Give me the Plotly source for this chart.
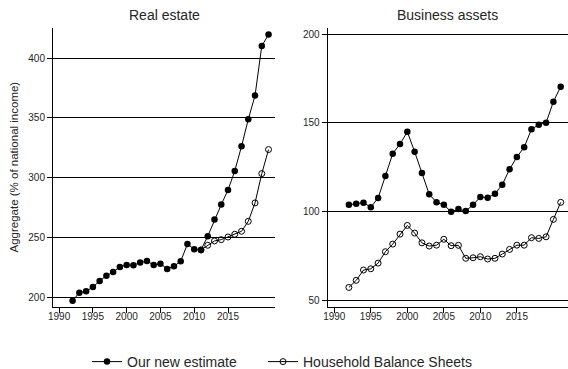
import plotly.graph_objects as go
from plotly.subplots import make_subplots

years = list(range(1992, 2022))

# Real estate, aggregate (% of national income)
real_estate_new = [197.2, 203.9, 205.0, 208.6, 213.6, 218.1, 221.2, 225.4, 227.0, 226.8,
                   229.0, 230.4, 227.0, 228.1, 223.7, 225.9, 230.1, 244.6, 240.1, 239.6,
                   251.0, 265.0, 277.5, 289.7, 305.6, 326.2, 348.8, 368.6, 410.1, 419.6]
real_estate_hbs = [None] * 19 + [239.6, 243.5, 247.1, 248.2, 250.4, 252.7, 255.2,
                                 263.5, 278.9, 303.4, 323.5]

# Business assets, aggregate (% of national income)
business_new = [103.9, 104.5, 105.1, 102.6, 107.7, 120.1, 132.7, 138.1, 145.0, 133.8,
                121.8, 109.8, 105.3, 103.9, 100.0, 101.5, 100.4, 103.9, 108.3, 107.9,
                110.1, 115.2, 123.9, 130.8, 136.3, 146.4, 149.0, 150.1, 161.9, 170.4]
business_hbs = [57.4, 61.4, 67.2, 67.9, 71.1, 77.5, 81.8, 87.4, 92.3, 88.0,
                82.5, 80.7, 81.2, 84.5, 80.9, 81.1, 73.8, 74.1, 74.7, 73.4,
                73.8, 76.2, 78.8, 81.2, 81.2, 85.4, 85.0, 85.9, 95.7, 105.3]

panel_titles = ["Real estate", "Business assets"]
series_names = ["Our new estimate", "Household Balance Sheets"]
x_tickvals = [1990, 1995, 2000, 2005, 2010, 2015]
left_ticks = [200, 250, 300, 350, 400]
right_ticks = [50, 100, 150, 200]
y_title = "Aggregate (% of national income)"

W, H = 568, 369
FONT = "Liberation Sans, Arial, sans-serif"
TXT = "#262626"

fig = make_subplots(rows=1, cols=2)

def add_pair(new_vals, hbs_vals, col, show):
    fig.add_trace(go.Scatter(
        x=years, y=new_vals, mode="lines+markers", name=series_names[0],
        legend="legend", legendgroup="new", showlegend=show,
        line=dict(color="black", width=1),
        marker=dict(symbol="circle", size=6.5, color="black"),
    ), row=1, col=col)
    fig.add_trace(go.Scatter(
        x=years, y=hbs_vals, mode="lines+markers", name=series_names[1],
        legend="legend2", legendgroup="hbs", showlegend=show,
        line=dict(color="black", width=1),
        marker=dict(symbol="circle-open", size=6, color="black",
                    line=dict(width=1, color="black")),
    ), row=1, col=col)

add_pair(real_estate_new, real_estate_hbs, 1, True)
add_pair(business_new, business_hbs, 2, False)

axis_common = dict(
    showline=True, linecolor="black", linewidth=1,
    ticks="outside", ticklen=5, tickcolor="black", tickwidth=1,
    tickfont=dict(family=FONT, size=10, color=TXT),
    zeroline=False, mirror=False, automargin=False,
)

fig.update_xaxes(**axis_common, showgrid=False, tickvals=x_tickvals,
                 range=[1989.1, 2022.0], ticklabelstandoff=-5)
fig.update_yaxes(**axis_common, showgrid=True, gridcolor="black", gridwidth=1)

fig.update_xaxes(domain=[53 / W, 275.3 / W], row=1, col=1)
fig.update_xaxes(domain=[327.7 / W, 1.0], row=1, col=2)
fig.update_yaxes(tickvals=left_ticks, range=[191.9, 425.1], row=1, col=1)
fig.update_yaxes(tickvals=right_ticks, range=[46.4, 203.4], row=1, col=2)

annotations = []
for title, dom in zip(panel_titles, [(53 / W, 275.3 / W), (327.7 / W, 1.0)]):
    annotations.append(dict(
        text=title, x=(dom[0] + dom[1]) / 2, y=1, xref="paper", yref="paper",
        xanchor="center", yanchor="bottom", yshift=3, showarrow=False,
        font=dict(family=FONT, size=14, color=TXT),
    ))
annotations.append(dict(
    text=y_title, x=13 / W, y=0.5, xref="paper", yref="paper",
    xanchor="center", yanchor="middle", textangle=-90, showarrow=False,
    font=dict(family=FONT, size=11.5, color=TXT),
))

legend_common = dict(
    orientation="h", xref="container", yref="container",
    xanchor="left", y=(H - 362) / H, yanchor="middle",
    font=dict(family=FONT, size=14, color=TXT),
    bgcolor="rgba(0,0,0,0)",
)

fig.update_layout(
    width=W, height=H,
    margin=dict(l=0, r=0, t=28, b=62.3, autoexpand=False),
    paper_bgcolor="white", plot_bgcolor="white",
    font=dict(family=FONT, color=TXT),
    annotations=annotations,
    legend=dict(**legend_common, x=87 / W),
    legend2=dict(**legend_common, x=263 / W),
)

fig.write_html("out.html")
